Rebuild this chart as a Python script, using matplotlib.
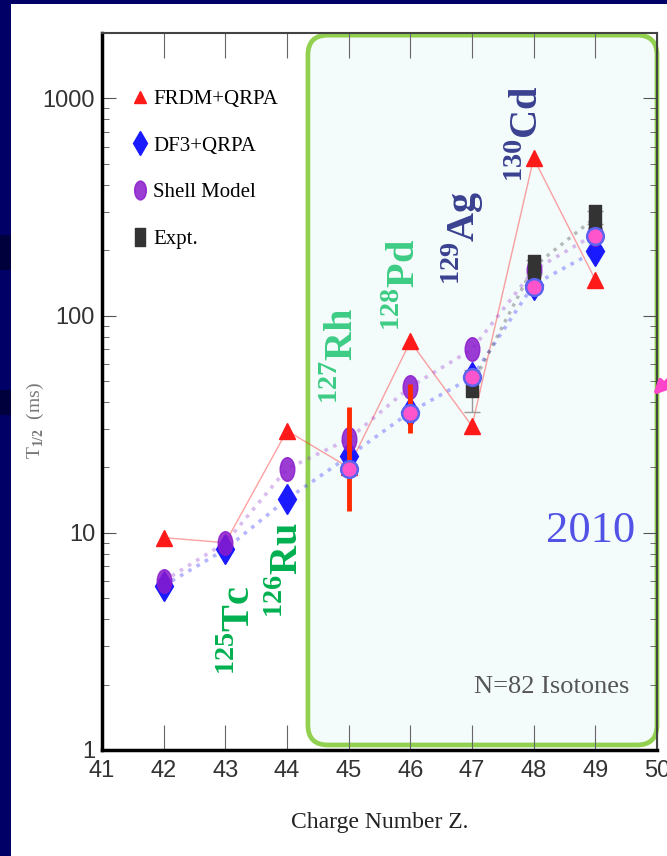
import matplotlib.pyplot as plt
from matplotlib.patches import FancyBboxPatch, Rectangle
from matplotlib.markers import MarkerStyle
from matplotlib.path import Path
from matplotlib.transforms import Affine2D
from matplotlib.ticker import NullFormatter

plt.rcParams['mathtext.fontset'] = 'custom'
plt.rcParams['mathtext.rm'] = 'Liberation Serif:bold'
plt.rcParams['mathtext.bf'] = 'Liberation Serif:bold'

# charge number Z and half-lives (ms)
z = [42, 43, 44, 45, 46, 47, 48, 49]
frdm = [9.5, 9.0, 29.5, 20, 76, 31, 530, 146]
df3 = [5.7, 8.4, 14.3, 22.5, 36, 52, 139, 198]
shell = [6.0, 9.0, 19.7, 27, 47, 70, 162, 237]
z_expt = [47, 48, 49]
expt = [48, 168, 283]
expt_lo = [12, 12, 20]
expt_hi = [8, 12, 20]
z_new = [45, 46, 47, 48, 49]
new = [19.6, 35.5, 52, 136, 233]
new_lo = [7.0, 6.7, 0, 0, 0]
new_hi = [18.4, 13, 0, 0, 0]

yticks = [1, 10, 100, 1000]
ytick_labels = ['1', '10', '100', '1000']

# isotope labels: (Z, T1/2 at start of text, mass number, element, colour)
labels = [(43.40, 2.21, '125', 'Tc', '#00b050'),
          (44.18, 4.07, '126', 'Ru', '#00b050'),
          (45.07, 39.1, '127', 'Rh', '#3dcc85'),
          (46.08, 84.5, '128', 'Pd', '#3dcc85'),
          (47.05, 139, '129', 'Ag', '#3a4190'),
          (48.07, 412, '130', 'Cd', '#3a4190')]

fig = plt.figure(figsize=(6.67, 8.56), dpi=100, facecolor='#000066')
# white slide panel and dark stripes of the background
fig.patches.append(Rectangle((11 / 667, 0), 1, 1 - 4 / 856, transform=fig.transFigure,
                             facecolor='white', edgecolor='none', zorder=-2))
fig.patches.append(Rectangle((0, 1 - 270 / 856), 11 / 667, 35 / 856, transform=fig.transFigure,
                             facecolor='#00003c', edgecolor='none', zorder=-2))
fig.patches.append(Rectangle((0, 1 - 415 / 856), 11 / 667, 25 / 856, transform=fig.transFigure,
                             facecolor='#00003c', edgecolor='none', zorder=-2))

ax = fig.add_axes([102 / 667, 1 - 750 / 856, 555 / 667, 717 / 856])
ax.set_facecolor('none')
ax.set_yscale('log')
ax.set_xlim(41, 50)
ax.set_ylim(1, 2000)

box = FancyBboxPatch((0.371, 0.007), 0.629, 0.99, boxstyle='round,pad=0,rounding_size=0.036',
                     mutation_aspect=555 / 717, transform=ax.transAxes,
                     facecolor='#f4fbfb', edgecolor='#92d050', linewidth=3.4,
                     clip_on=False, zorder=0.5)
ax.add_patch(box)

ellipse = MarkerStyle(Path.unit_circle().transformed(Affine2D().scale(0.62, 1.0)))
tallbox = MarkerStyle(Path.unit_rectangle().transformed(Affine2D().translate(-0.5, -0.5).scale(0.55, 1.0)))

ax.plot(z, frdm, '-', color='#ff3030', lw=1, alpha=0.45, zorder=2)
ax.plot(z, df3, ':', color='#3030ff', lw=2.6, alpha=0.35, zorder=2)
ax.plot(z, shell, ':', color='#9a3fd0', lw=2.6, alpha=0.35, zorder=2)
ax.plot(z_expt, expt, ':', color='#555555', lw=2.4, alpha=0.4, zorder=2)

ax.plot(z, frdm, '^', color='#ff1a1a', ms=11, ls='none', zorder=3, label='FRDM+QRPA')
ax.plot(z, df3, 'd', color='#1a1aff', ms=15, ls='none', zorder=3, label='DF3+QRPA')
ax.plot(z, shell, marker=ellipse, color='#8a1acc', ms=17, ls='none', zorder=3,
        alpha=0.85, label='Shell Model')
ax.errorbar(z_expt, expt, yerr=[expt_lo, expt_hi], fmt='none', ecolor='#999999',
            elinewidth=1, capsize=6, zorder=3)
ax.plot(z_expt, expt, marker=tallbox, color='#333333', ms=17, ls='none', zorder=3, label='Expt.')
ax.errorbar(z_new, new, yerr=[new_lo, new_hi], fmt='none', ecolor='#ff2a00',
            elinewidth=3.5, zorder=4)
ax.plot(z_new, new, 'o', mfc='#ff55cc', mec='#5b63f0', mew=1.8, ms=12, ls='none', zorder=5)

for x, y, mass, el, col in labels:
    ax.text(x, y, r'$^{' + mass + '}$' + el, rotation=90, rotation_mode='anchor',
            color=col, fontsize=29, fontweight='bold', family='Liberation Serif',
            ha='left', va='baseline', zorder=6)

ax.text(0.88, 0.306, '2010', transform=ax.transAxes, color='#5252e6', fontsize=32,
        family='Liberation Serif', ha='center', va='center')
ax.text(0.811, 0.088, 'N=82 Isotones', transform=ax.transAxes, color='#555555', fontsize=19,
        family='Liberation Serif', ha='center', va='center')

ax.annotate('', xy=(0.993, 0.495), xytext=(1.05, 0.54), xycoords='axes fraction',
            arrowprops=dict(arrowstyle='-|>', color='#ff44cc', lw=3, mutation_scale=20,
                            shrinkA=0, shrinkB=0))

leg = ax.legend(loc='upper left', bbox_to_anchor=(0.041, 0.933), frameon=False,
                handlelength=0.7, handletextpad=0.25, labelspacing=1.3, borderaxespad=0,
                markerscale=0.8, prop={'family': 'Liberation Serif', 'size': 15})

ax.set_xticks(range(41, 51))
ax.set_yticks(yticks, ytick_labels)
ax.yaxis.set_minor_formatter(NullFormatter())
ax.tick_params(axis='x', which='major', direction='in', length=18, top=True,
               labelsize=17, color='#666666', pad=7)
ax.tick_params(axis='y', which='major', direction='in', length=10, right=True,
               labelsize=17, color='#555555', pad=5)
ax.tick_params(axis='y', which='minor', direction='in', length=5, right=True, color='#555555')
for lab in ax.get_xticklabels() + ax.get_yticklabels():
    lab.set_family('Liberation Sans')
    lab.set_color('#333333')
for side in ['left', 'bottom']:
    ax.spines[side].set_linewidth(2.5)
for side in ['top', 'right']:
    ax.spines[side].set_linewidth(1.5)
    ax.spines[side].set_color('#444444')

ax.set_xlabel('Charge Number Z.', family='Liberation Serif', fontsize=17, color='#222222')
ax.xaxis.set_label_coords(0.5, -0.086)
ax.set_ylabel(r'T$_{1/2}$  (ms)', family='Liberation Serif', fontsize=14, color='#777777')
ax.yaxis.set_label_coords(-0.1, 0.46)

fig.savefig('out.png', dpi=100, facecolor=fig.get_facecolor())
